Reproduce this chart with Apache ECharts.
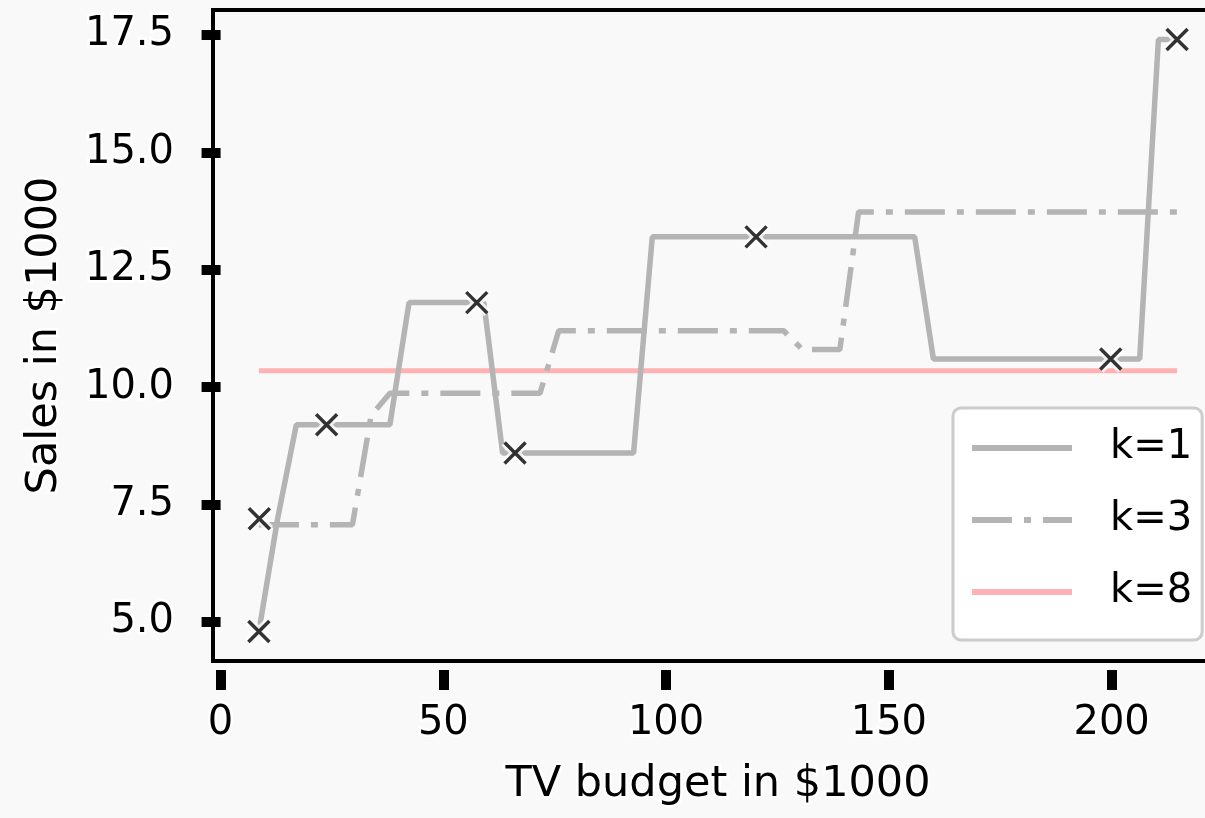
<!DOCTYPE html>
<html>
<head>
<meta charset="utf-8">
<script src="https://cdn.jsdelivr.net/npm/echarts@6/dist/echarts.min.js"></script>
<style>
html,body{margin:0;padding:0;background:#f9f9f9;overflow:hidden;}
#chart{width:1205px;height:818px;}
</style>
</head>
<body>
<div id="chart"></div>
<script>
// Training points (TV budget, sales)
const trainX = [8.6, 8.7, 23.8, 57.5, 66.1, 120.2, 199.8, 214.7];
const trainY = [4.8, 7.2, 9.2, 11.8, 8.6, 13.2, 10.6, 17.4];

// k=1 prediction curve
const k1X = [8.6, 12.8, 17.0, 38.0, 42.3, 59.1, 63.3, 92.7, 96.9, 155.8, 160.0, 206.3, 210.5, 214.7];
const k1Y = [4.8, 7.2, 9.2, 9.2, 11.8, 11.8, 8.6, 8.6, 13.2, 13.2, 10.6, 10.6, 17.4, 17.4];

// k=3 prediction curve
const k3X = [8.6, 29.6, 33.8, 38.0, 71.7, 75.9, 126.4, 130.6, 139.0, 143.2, 214.7];
const k3Y = [7.07, 7.07, 9.4, 9.87, 9.87, 11.2, 11.2, 10.8, 10.8, 13.73, 13.73];

// k=8 prediction curve
const k8X = [8.6, 214.7];
const k8Y = [10.35, 10.35];

const xTicks = [0, 50, 100, 150, 200];
const yTicks = [5.0, 7.5, 10.0, 12.5, 15.0, 17.5];

const seriesNames = ['k=1', 'k=3', 'k=8'];

function pairs(xs, ys) { return xs.map((x, i) => [x, ys[i]]); }

const FONT = 'DejaVu Sans';
const halo = { textBorderColor: '#ffffff', textBorderWidth: 5 };
const xMark = 'path://M0,0L10,10M0,10L10,0';

const chart = echarts.init(document.getElementById('chart'), null, { renderer: 'canvas' });
chart.setOption({
  backgroundColor: '#f9f9f9',
  animation: false,
  grid: {
    left: 213, right: -18, top: 10, bottom: 157,
    outerBoundsMode: 'none', containLabel: false,
    show: true, borderColor: '#000', borderWidth: 4, backgroundColor: 'transparent'
  },
  xAxis: {
    type: 'value', min: -1.7, max: 225.0, offset: 9,
    name: 'TV budget in $1000', nameLocation: 'middle', nameGap: 93,
    nameTextStyle: Object.assign({ fontFamily: FONT, fontSize: 43, color: '#000' }, halo),
    axisLine: { show: false },
    splitLine: { show: false },
    axisTick: { show: true, length: 20, customValues: xTicks, lineStyle: { color: '#000', width: 10 } },
    axisLabel: Object.assign({ customValues: xTicks, margin: 34, fontFamily: FONT, fontSize: 40, color: '#000' }, halo)
  },
  yAxis: {
    type: 'value', min: 4.17, max: 18.03, offset: 6,
    name: 'Sales in $1000', nameLocation: 'middle', nameGap: 141,
    nameTextStyle: Object.assign({ fontFamily: FONT, fontSize: 43, color: '#000' }, halo),
    axisLine: { show: false },
    splitLine: { show: false },
    axisTick: { show: true, length: 19, customValues: yTicks, lineStyle: { color: '#000', width: 10 } },
    axisLabel: Object.assign({ customValues: yTicks, margin: 33, fontFamily: FONT, fontSize: 40, color: '#000',
      formatter: v => Number(v).toFixed(1) }, halo)
  },
  legend: {
    data: seriesNames,
    orient: 'vertical',
    left: 953, top: 408,
    padding: [20, 10, 28, 16],
    itemGap: 32,
    itemWidth: 100, itemHeight: 14,
    backgroundColor: '#ffffff',
    borderColor: '#cccccc', borderWidth: 3, borderRadius: 8,
    itemStyle: { opacity: 0 },
    lineStyle: { width: 6 },
    textStyle: { fontFamily: FONT, fontSize: 40, color: '#000', padding: [0, 0, 0, 33] }
  },
  series: [
    {
      name: 'k=8', type: 'line', data: pairs(k8X, k8Y), symbol: 'none', z: 2,
      lineStyle: { color: '#ffb2b2', width: 5 }, itemStyle: { color: '#ffb2b2' }
    },
    {
      name: 'k=1', type: 'line', data: pairs(k1X, k1Y), symbol: 'none', z: 3,
      lineStyle: { color: '#b4b4b4', width: 5.5, cap: 'butt' }, itemStyle: { color: '#b4b4b4' }
    },
    {
      name: 'k=3', type: 'line', data: pairs(k3X, k3Y), symbol: 'none', z: 3,
      lineStyle: { color: '#b4b4b4', width: 5.5, type: [40, 12, 7, 12], cap: 'butt' }, itemStyle: { color: '#b4b4b4' }
    },
    {
      name: 'halo', type: 'scatter', data: pairs(trainX, trainY), symbol: xMark, symbolSize: 21, z: 4,
      itemStyle: { color: 'transparent', borderColor: '#ffffff', borderWidth: 9 }, silent: true
    },
    {
      name: 'train', type: 'scatter', data: pairs(trainX, trainY), symbol: xMark, symbolSize: 21, z: 5,
      itemStyle: { color: 'transparent', borderColor: '#000000', borderWidth: 3.5 }
    }
  ]
});
</script>
</body>
</html>
